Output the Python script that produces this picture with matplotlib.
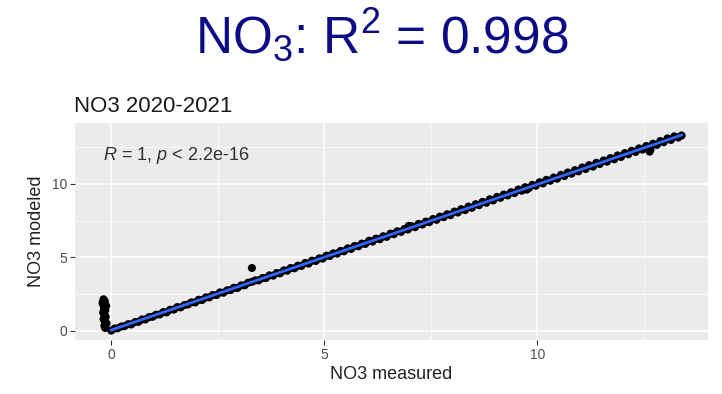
#!/usr/bin/env python3

import matplotlib
matplotlib.use("Agg")
import matplotlib.pyplot as plt
import numpy as np

plt.rcParams["font.family"] = ["Liberation Sans", "DejaVu Sans"]
plt.rcParams["mathtext.fontset"] = "custom"
plt.rcParams["mathtext.rm"] = "Liberation Sans"
plt.rcParams["mathtext.it"] = "Liberation Sans:italic"

# cluster of low measured values (near zero, model overshoots)
low_measured = [-0.18, -0.15, -0.20, -0.12, -0.17, -0.14, -0.19, -0.16, -0.13, -0.18,
                -0.15, -0.11, -0.20, -0.16, -0.14]
low_modeled = [2.15, 2.00, 1.85, 1.70, 1.55, 1.40, 1.25, 1.10, 0.95, 0.80,
               0.65, 0.50, 1.95, 0.35, 0.20]

measured = [0.00, 0.08, 0.15, 0.24, 0.31, 0.40, 0.47, 0.56, 0.64, 0.72,
            0.80, 0.89, 0.97, 1.05, 1.14, 1.22, 1.30, 1.38, 1.47, 1.55,
            1.63, 1.72, 1.80, 1.88, 1.97, 2.05, 2.13, 2.22, 2.30, 2.38,
            2.47, 2.55, 2.63, 2.72, 2.80, 2.88, 2.96, 3.05, 3.13, 3.21,
            3.30, 3.38, 3.46, 3.55, 3.63, 3.71, 3.80, 3.88, 3.96, 4.05,
            4.13, 4.21, 4.30, 4.38, 4.46, 4.55, 4.63, 4.71, 4.80, 4.88,
            4.96, 5.05, 5.13, 5.21, 5.30, 5.38, 5.46, 5.55, 5.63, 5.71,
            5.80, 5.88, 5.96, 6.05, 6.13, 6.21, 6.30, 6.38, 6.46, 6.55,
            6.63, 6.71, 6.80, 6.88, 6.96, 7.05, 7.13, 7.21, 7.30, 7.38,
            7.46, 7.55, 7.63, 7.71, 7.80, 7.88, 7.96, 8.05, 8.13, 8.21,
            8.30, 8.38, 8.46, 8.55, 8.63, 8.71, 8.80, 8.88, 8.96, 9.05,
            9.13, 9.21, 9.30, 9.38, 9.46, 9.55, 9.63, 9.71, 9.80, 9.88,
            9.96, 10.05, 10.13, 10.21, 10.30, 10.38, 10.46, 10.55, 10.63, 10.71,
            10.80, 10.88, 10.96, 11.05, 11.13, 11.21, 11.30, 11.38, 11.46, 11.55,
            11.63, 11.71, 11.80, 11.88, 11.96, 12.05, 12.13, 12.21, 12.30, 12.38,
            12.46, 12.55, 12.63, 12.71, 12.80, 12.88, 12.96, 13.05, 13.13, 13.21,
            13.30, 13.38, 3.30, 12.65, 6.98, 9.75]
modeled = [0.02, 0.16, 0.18, 0.30, 0.32, 0.46, 0.44, 0.60, 0.62, 0.78,
           0.78, 0.94, 0.96, 1.10, 1.12, 1.28, 1.26, 1.44, 1.45, 1.62,
           1.60, 1.76, 1.80, 1.94, 1.94, 2.12, 2.10, 2.28, 2.28, 2.44,
           2.44, 2.62, 2.60, 2.76, 2.78, 2.94, 2.92, 3.10, 3.10, 3.28,
           4.28, 3.44, 3.44, 3.60, 3.60, 3.78, 3.76, 3.94, 3.92, 4.12,
           4.10, 4.28, 4.26, 4.44, 4.42, 4.62, 4.58, 4.78, 4.76, 4.94,
           4.92, 5.12, 5.10, 5.28, 5.26, 5.44, 5.42, 5.62, 5.58, 5.78,
           5.76, 5.94, 5.92, 6.14, 6.08, 6.28, 6.24, 6.44, 6.40, 6.62,
           6.58, 6.78, 6.74, 6.94, 6.90, 7.12, 7.06, 7.28, 7.24, 7.44,
           7.40, 7.62, 7.56, 7.78, 7.74, 7.94, 7.88, 8.12, 8.06, 8.28,
           8.22, 8.46, 8.38, 8.62, 8.56, 8.78, 8.72, 8.96, 8.88, 9.12,
           9.06, 9.28, 9.22, 9.44, 9.38, 9.62, 9.54, 9.78, 9.72, 9.94,
           9.88, 10.12, 10.04, 10.28, 10.22, 10.44, 10.36, 10.62, 10.54, 10.78,
           10.70, 10.94, 10.86, 11.12, 11.02, 11.28, 11.18, 11.44, 11.36, 11.60,
           11.52, 11.76, 11.68, 11.94, 11.84, 12.10, 12.02, 12.26, 12.18, 12.42,
           12.34, 12.58, 12.20, 12.74, 12.66, 12.92, 12.84, 13.10, 13.00, 13.24,
           13.16, 13.30, 3.34, 12.35, 7.15, 9.62]

x_all = np.array(low_measured + measured)
y_all = np.array(low_modeled + modeled)

fig = plt.figure()
fig.set_size_inches(7.22, 3.94)
ax = fig.add_axes([75 / 722, 54 / 394, 633 / 722, 217 / 394])

ax.set_facecolor("#EBEBEB")
for s in ax.spines.values():
    s.set_visible(False)

ax.scatter(x_all, y_all, s=34, color="black", edgecolors="none", zorder=3)

# linear fit through the main measured/modeled series
slope, intercept = np.polyfit(measured, modeled, 1)
xfit = np.array([min(measured), max(measured)])
ax.plot(xfit, slope * xfit + intercept, color="#3366FF", lw=2, zorder=4)

ax.set_xlim(-0.85, 14.0)
ax.set_ylim(-0.62, 14.15)
ax.set_xticks([0, 5, 10])
ax.set_yticks([0, 5, 10])
ax.set_xticks([2.5, 7.5, 12.5], minor=True)
ax.set_yticks([2.5, 7.5, 12.5], minor=True)
ax.grid(True, which="major", color="white", lw=1.1, zorder=0)
ax.grid(True, which="minor", color="white", lw=0.5, zorder=0)
ax.set_axisbelow(True)
ax.tick_params(which="major", length=3.5, width=0.8, color="#333333",
               labelcolor="#4D4D4D", labelsize=10, pad=2)
ax.tick_params(which="minor", length=0)

ax.set_xlabel("NO3 measured", fontsize=13, color="#222222", labelpad=3)
ax.set_ylabel("NO3 modeled", fontsize=13, color="#222222", labelpad=5)

ax.text(-0.19, 11.6, r"$\it{R}$ = 1, $\it{p}$ < 2.2e-16", fontsize=13,
        color="#333333", va="baseline", ha="left")

fig.text(74 / 722, 1 - 112 / 394, "NO3 2020-2021", fontsize=16,
         color="#1A1A1A", va="baseline", ha="left")

fig.text(382 / 722, 1 - 53 / 394, r"NO$_\mathregular{3}$: R$^\mathregular{2}$ = 0.998",
         fontsize=37, color="#0B0B85", va="baseline", ha="center")

fig.savefig("out.png", dpi=100)
